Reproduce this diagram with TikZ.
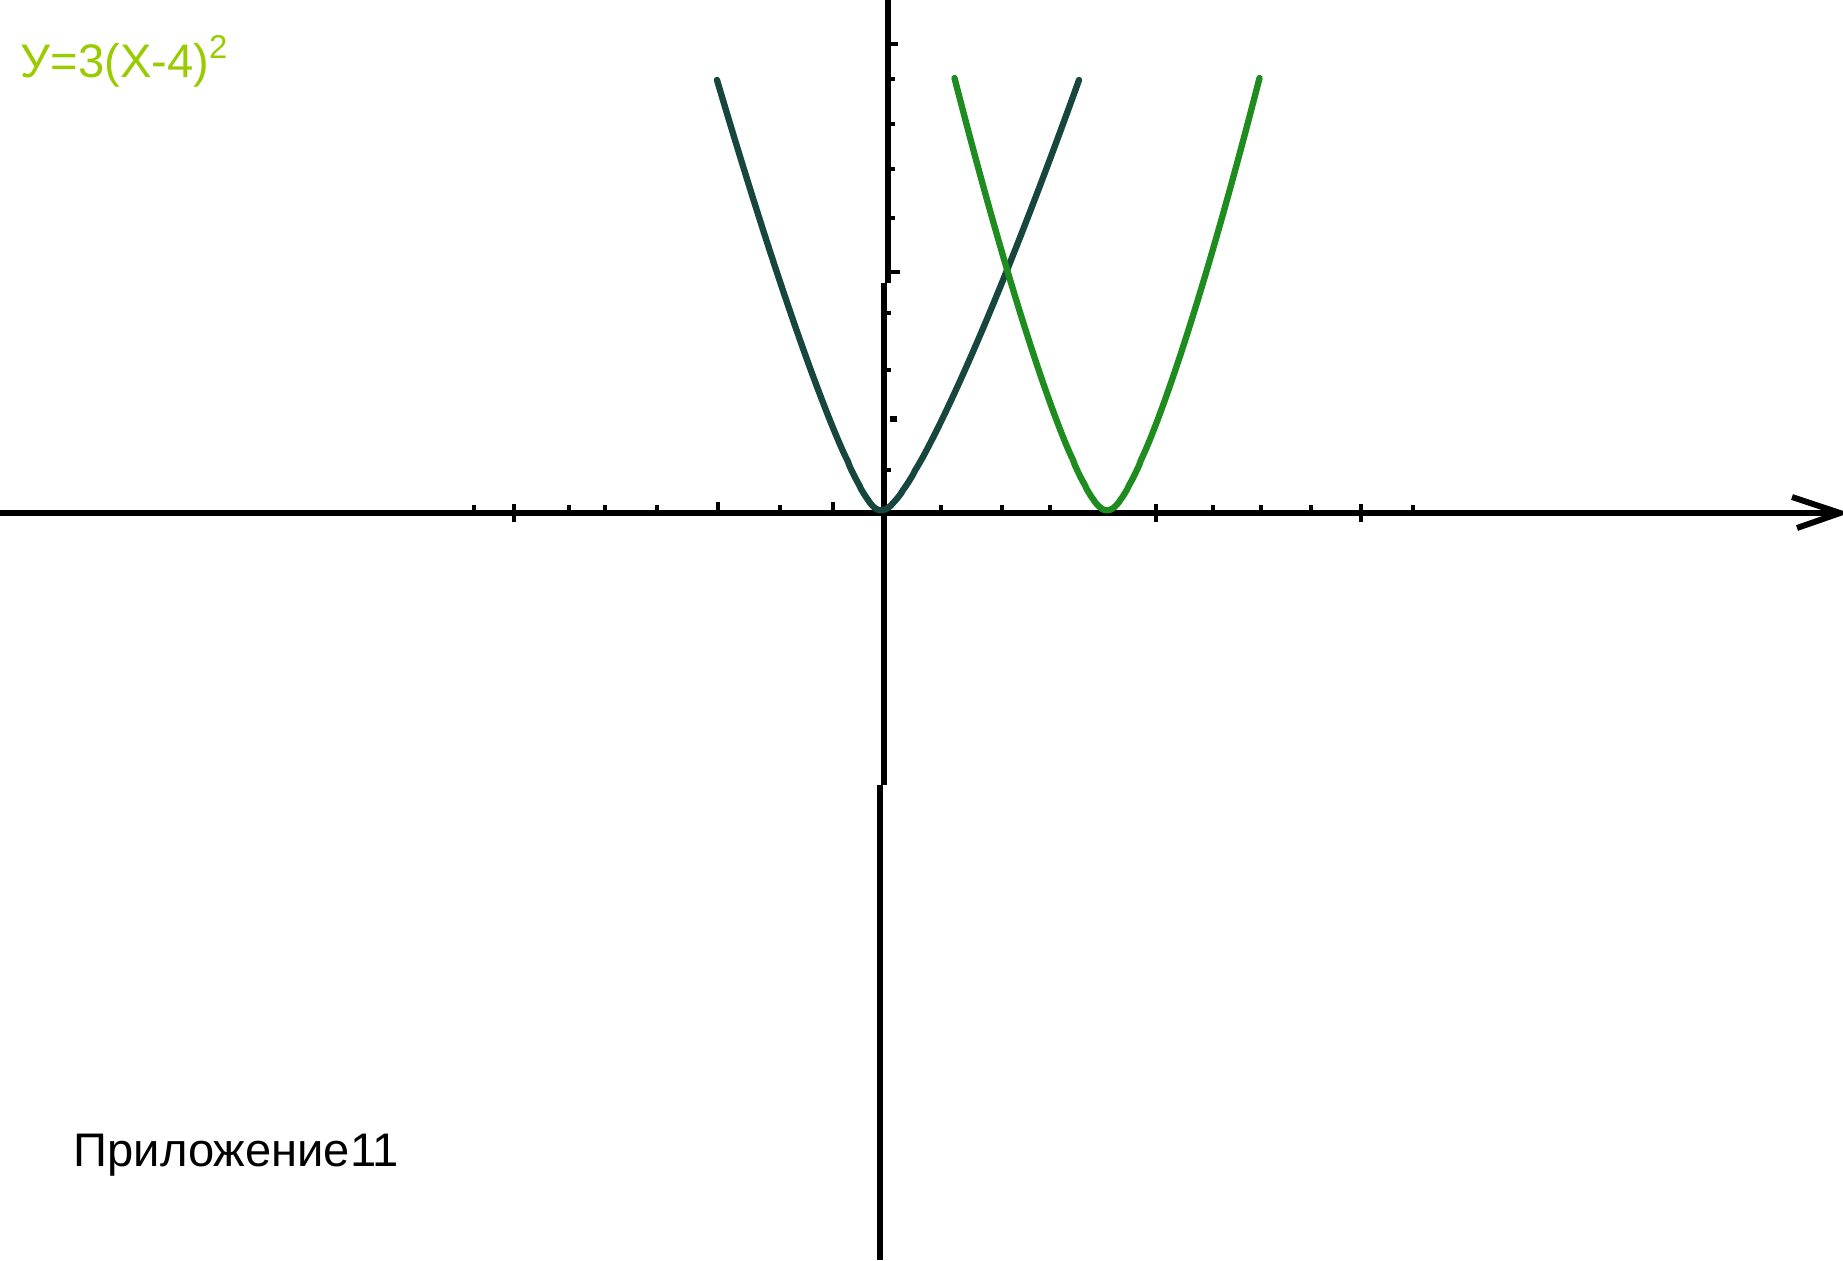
\documentclass[tikz,border=0pt]{standalone}
\usepackage{fontspec}
\setmainfont{Liberation Sans}
\definecolor{tealc}{RGB}{22,70,62}
\definecolor{greenc}{RGB}{30,140,30}
\definecolor{limec}{RGB}{153,204,0}
\begin{document}
\begin{tikzpicture}[x=0.01cm,y=-0.01cm,
  declare function={myshape(\d,\w,\p,\c)=(exp(\p/2*ln((\d/100)*(\d/100)+(\c/100)*(\c/100)))-exp(\p*ln(\c/100)))/(exp(\p/2*ln((\w/100)*(\w/100)+(\c/100)*(\c/100)))-exp(\p*ln(\c/100)));},
  axis/.style={line width=1.7pt,black},
  tickmark/.style={line width=1.4pt,black},
  curve/.style={line width=1.8pt,line join=round,line cap=round}]
\useasboundingbox (0,0) rectangle (1843,1260);
\fill[white] (0,0) rectangle (1843,1260);
% x axis
\coordinate (xl) at (0,513);
\coordinate (xt) at (1840,513);
\coordinate (b1) at (1792,497);
\coordinate (b2) at (1797,528);
\draw[axis] (xl) -- (xt);
\draw[axis] (b1) -- (xt) -- (b2);
% y axis (three slightly offset segments)
\coordinate (ya) at (888,0);
\coordinate (yb) at (888,283);
\coordinate (yc) at (884,283);
\coordinate (yd) at (884,785);
\coordinate (ye) at (880,785);
\coordinate (yf) at (880,1260);
\draw[axis] (ya) -- (yb);
\draw[axis] (yc) -- (yd);
\draw[axis] (ye) -- (yf);
% x ticks
\foreach \t in {474,569,605,657,780,941,1002,1050,1213,1261,1311,1413}
  \draw[tickmark] (\t,513) -- (\t,505);
\foreach \t in {718,833}
  \draw[tickmark] (\t,513) -- (\t,502);
\foreach \t in {514,1156,1361}
  \draw[tickmark] (\t,522) -- (\t,504);
% y ticks
\foreach \t in {79,124,169,218}
  \draw[tickmark] (888,\t) -- (895,\t);
\foreach \t in {313,370,470}
  \draw[tickmark] (884,\t) -- (891,\t);
\draw[tickmark] (888,44) -- (898,44);
\draw[tickmark] (888,272) -- (900,272);
\fill[black] (890,416) rectangle (897,422);
% curves
\draw[curve,tealc]
  plot[domain=-164:0,samples=90] ({881+\x},{510-430*myshape(\x,164,1.24,13)})
  -- plot[domain=0:198,samples=100] ({881+\x},{510-430*myshape(\x,198,1.24,13)});
\draw[curve,greenc]
  plot[domain=-152.5:152.5,samples=181] ({1107+\x},{510-432*myshape(\x,152.5,1.33,13)});
% texts
\node[anchor=base west,inner sep=0,text=limec,font=\fontsize{13.4}{16}\selectfont]
  (eq) at (20,77) {У=3(Х-4)\textsuperscript{2}};
\node[anchor=base west,inner sep=0,font=\fontsize{13.4}{16}\selectfont]
  (app) at (73,1166) {Приложение11};
\end{tikzpicture}
\end{document}
